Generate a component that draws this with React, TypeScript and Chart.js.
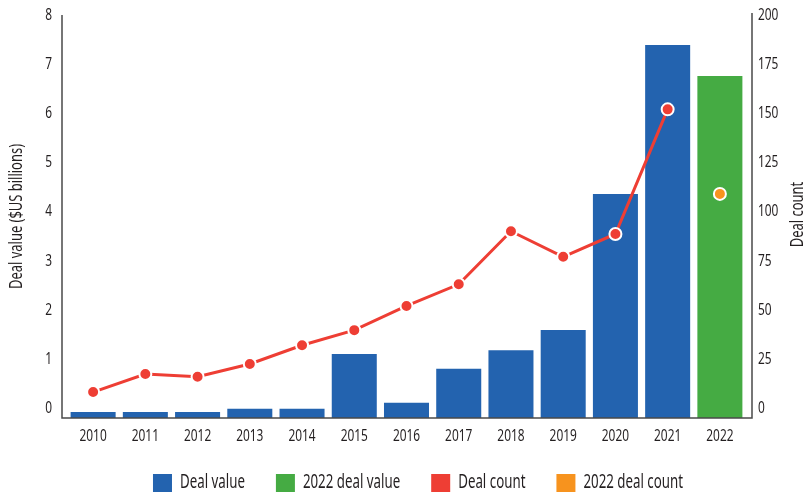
import React, { useEffect, useRef } from "react";
import { Chart, registerables } from "chart.js";

Chart.register(...registerables);

const years = ["2010", "2011", "2012", "2013", "2014", "2015", "2016", "2017", "2018", "2019", "2020", "2021", "2022"];
const dealValue = [-0.08, -0.08, -0.08, -0.01, -0.01, 1.1, 0.11, 0.8, 1.18, 1.59, 4.36, 7.39, null];
const dealValue2022 = [null, null, null, null, null, null, null, null, null, null, null, null, 6.76];
const dealCount = [8.2, 17.4, 16, 22.5, 32, 39.7, 52, 63, 90, 77, 88.6, 152, null];
const dealCount2022 = [null, null, null, null, null, null, null, null, null, null, null, null, 109];
const leftTicks = [0, 1, 2, 3, 4, 5, 6, 7, 8];
const rightTicks = [0, 25, 50, 75, 100, 125, 150, 175, 200];

const BLUE = "#2363af";
const GREEN = "#45ab43";
const RED = "#ee3e34";
const ORANGE = "#f7931e";
const TEXT = "#231f20";
const AXIS = "#4a4a4a";
const FONT = "'Noto Sans', 'Liberation Sans', sans-serif";
const SX = 0.7; // horizontal condensing of text glyphs

const decorPlugin = {
  id: "decor",
  afterDraw(chart: any) {
    const { ctx, chartArea } = chart;
    const { left, right, top, bottom } = chartArea;
    ctx.save();
    ctx.strokeStyle = AXIS;
    ctx.lineWidth = 1.5;
    ctx.beginPath();
    ctx.moveTo(left - 5, top);
    ctx.lineTo(left - 5, bottom);
    ctx.lineTo(right + 6, bottom);
    ctx.lineTo(right + 6, top - 2);
    ctx.stroke();

    ctx.fillStyle = TEXT;
    ctx.font = `18.5px ${FONT}`;
    ctx.textAlign = "center";
    ctx.textBaseline = "middle";
    ctx.translate(798, (top + bottom) / 2 - 2);
    ctx.rotate(-Math.PI / 2);
    ctx.fillText("Deal count", 0, 0);
    ctx.restore();

    ctx.save();
    ctx.font = `19px ${FONT}`;
    ctx.textBaseline = "middle";
    ctx.textAlign = "left";
    const items = chart.data.datasets.map((d: any) => ({ label: d.label, color: d.legendColor }));
    const box = 19;
    const gapText = 8;
    const gapItem = 31;
    const widths = items.map((it: any) => box + gapText + ctx.measureText(it.label).width);
    const total = widths.reduce((a: number, b: number) => a + b, 0) + gapItem * (items.length - 1);
    let x = 418 - total / 2;
    const yc = 483;
    items.forEach((it: any, i: number) => {
      ctx.fillStyle = it.color;
      ctx.fillRect(x, yc - 9, box, 18);
      ctx.fillStyle = TEXT;
      ctx.fillText(it.label, x + box + gapText, yc);
      x += widths[i] + gapItem;
    });
    ctx.restore();
  },
};

function condense(ctx: any) {
  const origFill = ctx.fillText.bind(ctx);
  const origMeasure = ctx.measureText.bind(ctx);
  ctx.fillText = (text: string, x: number, y: number) => {
    ctx.save();
    ctx.translate(x, y);
    ctx.scale(SX, 1);
    origFill(text, 0, 0);
    ctx.restore();
  };
  ctx.measureText = (text: string) => {
    const m = origMeasure(text);
    return {
      width: m.width * SX,
      actualBoundingBoxAscent: m.actualBoundingBoxAscent,
      actualBoundingBoxDescent: m.actualBoundingBoxDescent,
      actualBoundingBoxLeft: m.actualBoundingBoxLeft * SX,
      actualBoundingBoxRight: m.actualBoundingBoxRight * SX,
      fontBoundingBoxAscent: m.fontBoundingBoxAscent,
      fontBoundingBoxDescent: m.fontBoundingBoxDescent,
    };
  };
}

function fixVertical(width: number) {
  return (scale: any) => {
    scale.width = width;
    scale.paddingTop = 0;
    scale.paddingBottom = 0;
  };
}

export default function App() {
  const ref = useRef<HTMLCanvasElement | null>(null);

  useEffect(() => {
    document.body.style.margin = "0";
    Chart.defaults.font.family = FONT;
    Chart.defaults.font.size = 17;
    Chart.defaults.color = TEXT;
    const canvas = ref.current as HTMLCanvasElement;
    const ctx = canvas.getContext("2d") as any;
    condense(ctx);
    const chart = new Chart(ctx, {
      type: "bar",
      data: {
        labels: years,
        datasets: [
          {
            type: "bar",
            label: "Deal value",
            data: dealValue,
            backgroundColor: BLUE,
            legendColor: BLUE,
            yAxisID: "y",
            base: -0.2,
            grouped: false,
            order: 2,
            barPercentage: 0.862,
            categoryPercentage: 1,
          } as any,
          {
            type: "bar",
            label: "2022 deal value",
            data: dealValue2022,
            backgroundColor: GREEN,
            legendColor: GREEN,
            yAxisID: "y",
            base: -0.2,
            grouped: false,
            order: 2,
            barPercentage: 0.862,
            categoryPercentage: 1,
          } as any,
          {
            type: "line",
            label: "Deal count",
            data: dealCount,
            borderColor: RED,
            backgroundColor: RED,
            legendColor: RED,
            borderWidth: 3,
            pointRadius: 6,
            pointBorderWidth: 2,
            pointBorderColor: "#ffffff",
            pointBackgroundColor: RED,
            yAxisID: "y2",
            order: 1,
            tension: 0,
          } as any,
          {
            type: "line",
            label: "2022 deal count",
            data: dealCount2022,
            showLine: false,
            borderColor: ORANGE,
            backgroundColor: ORANGE,
            legendColor: ORANGE,
            pointRadius: 6,
            pointBorderWidth: 2,
            pointBorderColor: "#ffffff",
            pointBackgroundColor: ORANGE,
            yAxisID: "y2",
            order: 0,
          } as any,
        ],
      },
      options: {
        animation: false,
        responsive: false,
        maintainAspectRatio: false,
        layout: { padding: { top: 15, bottom: 51, left: 0, right: 0 } },
        plugins: {
          legend: { display: false },
          tooltip: { enabled: false },
        },
        scales: {
          x: {
            type: "category",
            grid: { display: false, drawTicks: false },
            border: { display: false },
            ticks: { padding: 8, color: TEXT, font: { size: 17 }, maxRotation: 0, autoSkip: false },
            afterFit(scale: any) {
              scale.height = 26;
            },
          },
          y: {
            type: "linear",
            position: "left",
            min: -0.2,
            max: 8,
            grid: { display: false, drawTicks: false },
            border: { display: false },
            ticks: { padding: 15, color: TEXT, font: { size: 17 } },
            afterBuildTicks(scale: any) {
              scale.ticks = leftTicks.map((v) => ({ value: v }));
            },
            title: {
              display: true,
              text: "Deal value ($US billions)",
              color: TEXT,
              font: { size: 18.5 },
              padding: { top: 6, bottom: 0 },
            },
            afterFit: fixVertical(67),
          },
          y2: {
            type: "linear",
            position: "right",
            min: -5,
            max: 200,
            grid: { display: false, drawTicks: false },
            border: { display: false },
            ticks: { padding: 12, color: TEXT, font: { size: 17 } },
            afterBuildTicks(scale: any) {
              scale.ticks = rightTicks.map((v) => ({ value: v }));
            },
            afterFit: fixVertical(63),
          },
        },
      },
      plugins: [decorPlugin],
    });
    return () => chart.destroy();
  }, []);

  return (
    <div style={{ width: 809, height: 495, position: "relative", background: "#fff" }}>
      <canvas ref={ref} width={809} height={495} style={{ display: "block", width: 809, height: 495 }} />
    </div>
  );
}
